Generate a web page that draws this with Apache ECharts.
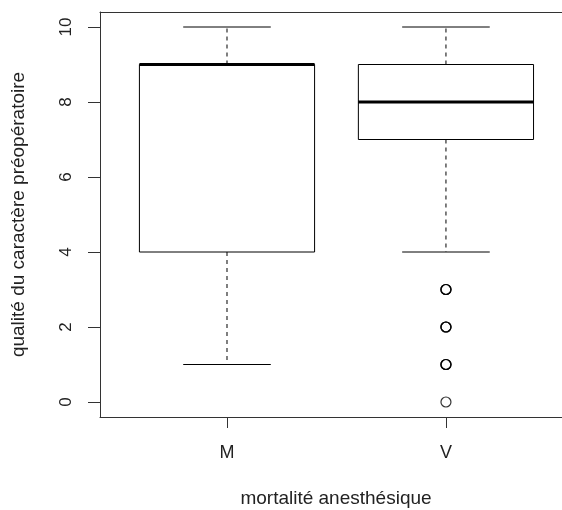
<!DOCTYPE html>
<html>
<head>
<meta charset="utf-8">
<script src="https://cdn.jsdelivr.net/npm/echarts@6/dist/echarts.min.js"></script>
<style>
  html, body { margin: 0; padding: 0; background: #fff; }
  #chart { width: 562px; height: 510px; }
</style>
</head>
<body>
<div id="chart"></div>
<script>
// Groups and their five-number summaries
const categories = ['M', 'V'];
const whiskerLow = [1, 4];
const lowerQuartile = [4, 7];
const medianValue = [9, 8];
const upperQuartile = [9, 9];
const whiskerHigh = [10, 10];
// Outlying observations (group label, value); repeats are tied values
const outlierGroup = ['V', 'V', 'V', 'V', 'V', 'V', 'V', 'V', 'V', 'V'];
const outlierValue = [3, 3, 3, 2, 2, 2, 1, 1, 1, 0];
const yTicks = [0, 2, 4, 6, 8, 10];

const FONT = 'Liberation Sans, Arial, Helvetica, sans-serif';
const INK = '#000';
const FRAME = '#333';

const boxData = categories.map((c, i) => [
  i + 1, whiskerLow[i], lowerQuartile[i], medianValue[i], upperQuartile[i], whiskerHigh[i]
]);
const outlierData = outlierValue.map((v, i) => [categories.indexOf(outlierGroup[i]) + 1, v]);

function renderBox(params, api) {
  const x = api.value(0);
  const lo = api.value(1), q1 = api.value(2), med = api.value(3), q3 = api.value(4), hi = api.value(5);
  const halfBox = 0.4, halfCap = 0.2;
  const pLoL = api.coord([x - halfBox, q1]);
  const pHiR = api.coord([x + halfBox, q3]);
  const pc = (v) => api.coord([x, v]);
  const cap = (v) => {
    const a = api.coord([x - halfCap, v]), b = api.coord([x + halfCap, v]);
    return { type: 'line', shape: { x1: a[0], y1: a[1], x2: b[0], y2: b[1] },
      style: { stroke: INK, lineWidth: 1 } };
  };
  const med1 = api.coord([x - halfBox, med]), med2 = api.coord([x + halfBox, med]);
  return {
    type: 'group',
    children: [
      { type: 'line', shape: { x1: pc(q3)[0], y1: pc(q3)[1], x2: pc(hi)[0], y2: pc(hi)[1] },
        style: { stroke: INK, lineWidth: 1, lineDash: [4, 4] } },
      { type: 'line', shape: { x1: pc(q1)[0], y1: pc(q1)[1], x2: pc(lo)[0], y2: pc(lo)[1] },
        style: { stroke: INK, lineWidth: 1, lineDash: [4, 4] } },
      cap(hi),
      cap(lo),
      { type: 'rect', shape: { x: pLoL[0], y: pHiR[1], width: pHiR[0] - pLoL[0], height: pLoL[1] - pHiR[1] },
        style: { fill: 'none', stroke: INK, lineWidth: 1 } },
      { type: 'line', shape: { x1: med1[0], y1: med1[1], x2: med2[0], y2: med2[1] },
        style: { stroke: INK, lineWidth: 3 } }
    ]
  };
}

const chart = echarts.init(document.getElementById('chart'), null, { renderer: 'canvas' });
chart.setOption({
  animation: false,
  backgroundColor: '#fff',
  textStyle: { fontFamily: FONT },
  // the frame is open on the right: the x range continues past the window edge
  grid: { left: 100, top: 12, right: 0, bottom: 93, show: false, outerBoundsMode: 'none' },
  xAxis: [
    {
      type: 'value', min: 0.42, max: 2.53, position: 'bottom',
      axisLine: { show: true, onZero: false, lineStyle: { color: FRAME, width: 1 } },
      splitLine: { show: false },
      axisTick: { show: true, customValues: [1, 2], length: 11, lineStyle: { color: FRAME } },
      axisLabel: { customValues: [1, 2], formatter: (v) => categories[Math.round(v) - 1],
        fontSize: 18, color: '#222', margin: 27, fontFamily: FONT },
      name: 'mortalité anesthésique', nameLocation: 'middle', nameGap: 72,
      nameTextStyle: { fontSize: 19, color: '#222', fontFamily: FONT, padding: [0, 0, 0, 10] }
    },
    {
      type: 'value', min: 0.42, max: 2.53, position: 'top',
      axisLine: { show: true, onZero: false, lineStyle: { color: FRAME, width: 1 } },
      splitLine: { show: false }, axisTick: { show: false }, axisLabel: { show: false }
    }
  ],
  yAxis: {
    type: 'value', min: -0.4, max: 10.4,
    axisLine: { show: true, onZero: false, lineStyle: { color: FRAME, width: 1 } },
    splitLine: { show: false },
    axisTick: { show: true, customValues: yTicks, length: 12, lineStyle: { color: FRAME } },
    axisLabel: { customValues: yTicks, rotate: 90, fontSize: 17, color: '#222', margin: 25, fontFamily: FONT },
    name: 'qualité du caractère préopératoire', nameLocation: 'middle', nameGap: 72,
    nameTextStyle: { fontSize: 19, color: '#222', fontFamily: FONT }
  },
  series: [
    {
      type: 'custom', renderItem: renderBox, data: boxData,
      encode: { x: 0, y: [1, 2, 3, 4, 5] }, z: 2
    },
    {
      type: 'scatter', data: outlierData, symbol: 'circle', symbolSize: 10,
      itemStyle: { color: 'rgba(0,0,0,0)', borderColor: INK, borderWidth: 1.2 }, z: 3
    }
  ]
});
</script>
</body>
</html>
